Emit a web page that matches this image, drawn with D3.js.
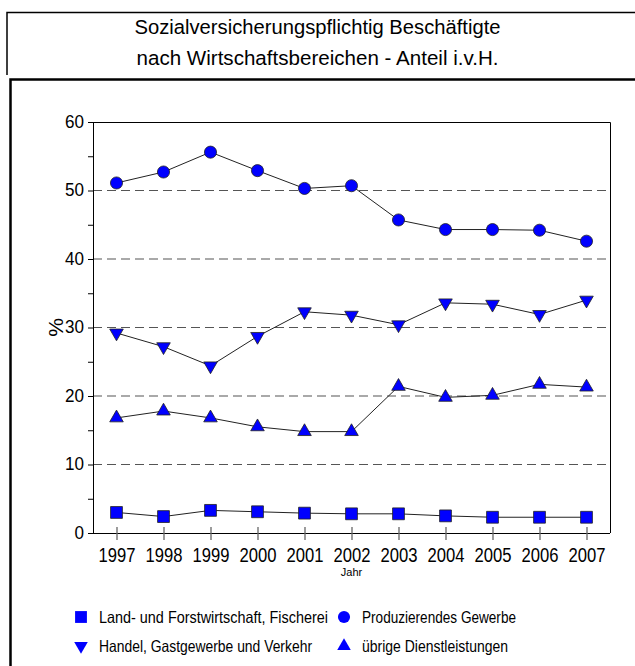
<!DOCTYPE html>
<html>
<head>
<meta charset="utf-8">
<script src="https://cdn.jsdelivr.net/npm/d3@7/dist/d3.min.js"></script>
<style>
  body { margin: 0; background: #fff; }
  svg text { font-family: "Liberation Sans", Arial, sans-serif; fill: #000; }
</style>
</head>
<body>
<div id="chart"></div>
<script>
var years = ["1997", "1998", "1999", "2000", "2001", "2002", "2003", "2004", "2005", "2006", "2007"];
var land = [3.0, 2.4, 3.3, 3.1, 2.9, 2.8, 2.8, 2.5, 2.3, 2.3, 2.3];
var produz = [51.1, 52.7, 55.6, 52.9, 50.3, 50.7, 45.7, 44.3, 44.3, 44.2, 42.6];
var handel = [29.2, 27.2, 24.4, 28.7, 32.3, 31.8, 30.4, 33.6, 33.4, 31.9, 34.0];
var uebrige = [16.8, 17.8, 16.8, 15.5, 14.8, 14.8, 21.4, 19.8, 20.1, 21.7, 21.3];
var series_names = ["Land- und Forstwirtschaft, Fischerei", "Produzierendes Gewerbe",
    "Handel, Gastgewerbe und Verkehr", "übrige Dienstleistungen"];
var y_ticks = [0, 10, 20, 30, 40, 50, 60];
var title_lines = ["Sozialversicherungspflichtig Beschäftigte", "nach Wirtschaftsbereichen - Anteil i.v.H."];

var width = 635, height = 666;
var plot = {left: 93, top: 122, right: 610, bottom: 533};

// the original font is a condensed one, squeeze the text to its width
function narrow(sel, w) {
    sel.attr("textLength", w).attr("lengthAdjust", "spacingAndGlyphs");
}

var svg = d3.select("#chart").append("svg")
    .attr("width", width)
    .attr("height", height);

// frames
svg.append("path")
    .attr("d", "M7,75 V12.5 H635")
    .attr("fill", "none").attr("stroke", "#000").attr("stroke-width", 1.5);
svg.append("path")
    .attr("d", "M10.5,666 V79.5 H635")
    .attr("fill", "none").attr("stroke", "#000").attr("stroke-width", 2.5);

// title
let title_w = [366, 362];
svg.selectAll(".title").data(title_lines).enter().append("text")
    .attr("class", "title")
    .attr("x", 317.5)
    .attr("y", function(d, i) { return 33.5 + i * 31.5; })
    .attr("text-anchor", "middle")
    .attr("font-size", 20.5)
    .text(function(d) { return d; })
    .each(function(d, i) { narrow(d3.select(this), title_w[i]); });

let x = d3.scalePoint().domain(years).range([plot.left, plot.right]).padding(0.5);
let y = d3.scaleLinear().domain([0, 60]).range([plot.bottom, plot.top]);

// dashed grid
svg.selectAll(".grid").data(y_ticks.filter(function(d) { return d > 0 && d < 60; })).enter().append("line")
    .attr("x1", plot.left).attr("x2", plot.right)
    .attr("y1", function(d) { return y(d); })
    .attr("y2", function(d) { return y(d); })
    .attr("stroke", "#555")
    .attr("stroke-width", 1.2)
    .attr("stroke-dasharray", "9,5");

// plot frame top / right
svg.append("path")
    .attr("d", "M" + plot.left + "," + (plot.top + 0.5) + " H" + (plot.right + 0.5) + " V" + plot.bottom)
    .attr("fill", "none").attr("stroke", "#000");

// y axis
let y_axis = svg.append("g")
    .attr("transform", "translate(" + plot.left + ",0)")
    .call(d3.axisLeft(y).tickValues(d3.range(0, 61, 5)).tickSize(5).tickFormat(function(d) {
        return d % 10 === 0 ? d : "";
    }));
y_axis.select(".domain").attr("stroke", "#000");
y_axis.selectAll(".tick text")
    .attr("font-size", 19)
    .attr("x", -9)
    .attr("dy", "0.28em")
    .each(function(d) { if (d % 10 === 0) narrow(d3.select(this), String(d).length * 9.5); });

// x axis
let x_axis = svg.append("g")
    .attr("transform", "translate(0," + plot.bottom + ")")
    .call(d3.axisBottom(x).tickSize(7).tickSizeOuter(0));
x_axis.select(".domain").attr("stroke", "#000").attr("d", "M" + plot.left + ",0.5H" + plot.right);
x_axis.selectAll(".tick line").attr("y1", -6).attr("stroke", "#666").attr("stroke-width", 1.3);
x_axis.selectAll(".tick text")
    .attr("font-size", 20)
    .attr("y", 28.5)
    .attr("dy", 0)
    .each(function() { narrow(d3.select(this), 37); });

// axis titles
svg.append("text")
    .attr("transform", "translate(63," + y(30) + ") rotate(-90)")
    .attr("text-anchor", "middle")
    .attr("font-size", 21)
    .text("%");
svg.append("text")
    .attr("x", x("2002"))
    .attr("y", 576)
    .attr("text-anchor", "middle")
    .attr("font-size", 11)
    .text("Jahr");

// series
let all_series = [
    {values: land, symbol: d3.symbolSquare, size: 140, rot: 0},
    {values: produz, symbol: d3.symbolCircle, size: 115, rot: 0},
    {values: handel, symbol: d3.symbolTriangle, size: 80, rot: 180},
    {values: uebrige, symbol: d3.symbolTriangle, size: 80, rot: 0}
];

let line = d3.line()
    .x(function(d, i) { return x(years[i]); })
    .y(function(d) { return y(d); });

all_series.forEach(function(s) {
    svg.append("path")
        .attr("d", line(s.values))
        .attr("fill", "none")
        .attr("stroke", "#222")
        .attr("stroke-width", 1);
});

all_series.forEach(function(s) {
    svg.selectAll(null).data(s.values).enter().append("path")
        .attr("d", d3.symbol().type(s.symbol).size(s.size))
        .attr("transform", function(d, i) {
            return "translate(" + x(years[i]) + "," + y(d) + ") rotate(" + s.rot + ")";
        })
        .attr("fill", "#0000ff")
        .attr("stroke", "#222")
        .attr("stroke-width", 0.8);
});

// legend
let legend_pos = [[81, 617], [344, 617], [81, 646], [344, 646]];
let legend_w = [229, 154, 213, 146];
all_series.forEach(function(s, i) {
    let g = svg.append("g").attr("transform", "translate(" + legend_pos[i][0] + "," + legend_pos[i][1] + ")");
    g.append("path")
        .attr("d", d3.symbol().type(s.symbol).size(s.size))
        .attr("transform", "rotate(" + s.rot + ")")
        .attr("fill", "#0000ff");
    g.append("text")
        .attr("x", 18)
        .attr("y", 6)
        .attr("font-size", 16.5)
        .text(series_names[i])
        .call(narrow, legend_w[i]);
});
</script>
</body>
</html>
